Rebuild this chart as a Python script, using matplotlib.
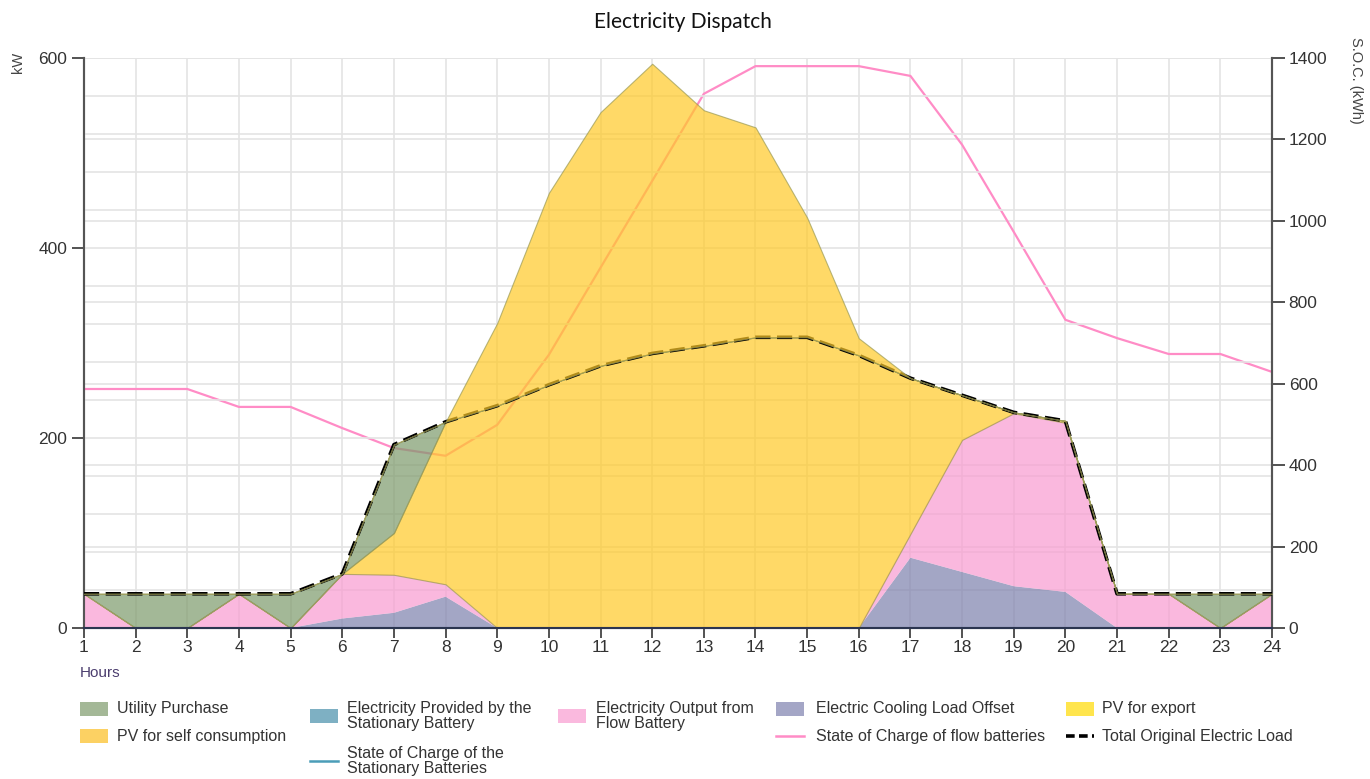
import matplotlib.pyplot as plt
from matplotlib.patches import Rectangle
from matplotlib.lines import Line2D
from matplotlib.ticker import MultipleLocator

# hourly values
hours = list(range(1, 25))
coolingOffset = [0, 0, 0, 0, 0, 10, 16, 33, 0, 0, 0, 0, 0, 0, 0, 0, 74, 59, 44, 38, 0, 0, 0, 0]
flowBattery = [36, 0, 0, 36, 0, 47, 40, 13, 0, 0, 0, 0, 0, 0, 0, 0, 25, 139, 182, 178, 36, 36, 0, 36]
pvSelf = [0, 0, 0, 0, 0, 0, 44, 171, 234, 256, 276, 289, 297, 306, 306, 287, 164, 47, 1, 2, 0, 0, 0, 0]
utility = [0, 36, 36, 0, 36, 0, 93, 0, 0, 0, 0, 0, 0, 0, 0, 0, 0, 0, 0, 0, 0, 0, 36, 0]
pvExport = [0, 0, 0, 0, 0, 0, 0, 0, 87, 202, 267, 305, 248, 221, 126, 18, 0, 0, 0, 0, 0, 0, 0, 0]
totalLoad = [36, 36, 36, 36, 36, 57, 193, 217, 234, 256, 276, 289, 297, 306, 306, 287, 263, 245, 227, 218, 36, 36, 36, 36]
socFlow = [587, 587, 587, 543, 543, 491, 442, 423, 499, 671, 885, 1098, 1312, 1380, 1380, 1380, 1356, 1187, 973, 757,
           712, 673, 673, 629]

W, H = 1370, 779
textColor = "#333333"
gridColor = "#e4e4e4"
edgeColor = "#9a9a55"

plt.rcParams["font.family"] = ["Liberation Sans", "DejaVu Sans"]

fig = plt.figure(figsize=(W / 100, H / 100), dpi=100)
axRect = [84 / W, 1 - 628 / H, (1272 - 84) / W, (628 - 58) / H]
axSoc = fig.add_axes(axRect)
ax = axSoc.twinx()
ax.set_zorder(axSoc.get_zorder() + 1)
ax.patch.set_visible(False)

# state of charge line sits under the translucent areas
axSoc.plot(hours, socFlow, color="#ff8cc6", lw=1.6, zorder=2)
axSoc.set_ylim(0, 1400)
axSoc.set_xlim(1, 24)
axSoc.set_xticks(hours)
axSoc.yaxis.set_major_locator(MultipleLocator(200))
axSoc.yaxis.tick_right()
axSoc.yaxis.set_label_position("right")
axSoc.grid(True, axis="y", color=gridColor, lw=1.2)
axSoc.grid(True, axis="x", color=gridColor, lw=1.2)
axSoc.set_axisbelow(True)

ax.yaxis.tick_left()
ax.set_ylim(0, 600)
ax.yaxis.set_major_locator(MultipleLocator(200))
ax.yaxis.set_minor_locator(MultipleLocator(40))
ax.grid(True, axis="y", which="both", color=gridColor, lw=1.2)
ax.set_axisbelow(True)

# stacked areas
base = [0] * 24
layers = [
    (coolingOffset, "#7d80ad", "none"),
    (flowBattery, "#f99bd0", "none"),
    (pvSelf, "#ffc926", edgeColor),
    (utility, "#7d9a6b", edgeColor),
]
for values, color, edge in layers:
    top = [b + v for b, v in zip(base, values)]
    ax.fill_between(hours, base, top, facecolor=color, alpha=0.7, edgecolor=edge, lw=0.8, zorder=1)
    base = top

ax.plot(hours, totalLoad, color="black", lw=2.6, dashes=[4.2, 1.8], zorder=3)

exportTop = [l + e for l, e in zip(totalLoad, pvExport)]
ax.fill_between(hours, totalLoad, exportTop, facecolor="#ffc926", alpha=0.7, edgecolor=edgeColor, lw=0.8, zorder=4)

# axes styling
for a in (ax, axSoc):
    a.spines["top"].set_visible(False)
    a.spines["left"].set_color("#555555")
    a.spines["right"].set_color("#555555")
    a.spines["bottom"].set_color("#2b3550")
    a.spines["left"].set_linewidth(1.5)
    a.spines["right"].set_linewidth(1.5)
    a.spines["bottom"].set_linewidth(1.5)

ax.tick_params(axis="y", which="major", length=9, width=1.3, color="#444444", labelsize=12.5, labelcolor=textColor, pad=3)
ax.tick_params(axis="y", which="minor", length=0)
axSoc.tick_params(axis="x", length=7, width=1.3, color="#444444", labelsize=12.5, labelcolor=textColor, pad=2,
                  labelbottom=True)
axSoc.tick_params(axis="y", length=9, width=1.3, color="#444444", labelsize=12.5, labelcolor=textColor, pad=3)


def fx(x):
    return x / W


def fy(y):
    return 1 - y / H


fig.text(fx(683), fy(22), "Electricity Dispatch", family="Lato", fontsize=15, ha="center", va="center", color="#111111")
fig.text(fx(18), fy(62), "kW", rotation=90, fontsize=10.5, ha="center", va="center", color="#444444")
fig.text(fx(1356), fy(80), "S.O.C. (kWh)", rotation=270, fontsize=10.5, ha="center", va="center", color="#444444")
fig.text(fx(80), fy(673), "Hours", fontsize=11, ha="left", va="center", color="#4b3d6e")

# legend laid out like the original, five columns under the plot
legendItems = [
    ("patch", "#a4b897", 80, 709, "Utility Purchase", 117),
    ("patch", "#fcd163", 80, 736, "PV for self consumption", 117),
    ("patch", "#7eb0c3", 310, 716, "Electricity Provided by the\nStationary Battery", 347),
    ("line", "#4b9db8", 310, 761, "State of Charge of the\nStationary Batteries", 347),
    ("patch", "#fab9de", 558, 716, "Electricity Output from\nFlow Battery", 596),
    ("patch", "#a4a6c6", 776, 709, "Electric Cooling Load Offset", 816),
    ("line", "#ff8cc6", 776, 736, "State of Charge of flow batteries", 816),
    ("patch", "#ffe54d", 1066, 709, "PV for export", 1102),
    ("dash", "black", 1066, 736, "Total Original Electric Load", 1102),
]
for kind, color, hx, hy, label, tx in legendItems:
    if kind == "patch":
        fig.add_artist(Rectangle((fx(hx), fy(hy + 7)), 28 / W, 14 / H, transform=fig.transFigure,
                                 facecolor=color, edgecolor="none"))
    elif kind == "line":
        fig.add_artist(Line2D([fx(hx), fx(hx + 28)], [fy(hy), fy(hy)], transform=fig.transFigure,
                              color=color, lw=1.8))
    else:
        fig.add_artist(Line2D([fx(hx), fx(hx + 28)], [fy(hy), fy(hy)], transform=fig.transFigure,
                              color=color, lw=2.6, dashes=[2.4, 1.2]))
    fig.text(fx(tx), fy(hy), label, fontsize=11.5, ha="left", va="center", color=textColor, linespacing=1.05)

fig.savefig("out.png", dpi=100)
